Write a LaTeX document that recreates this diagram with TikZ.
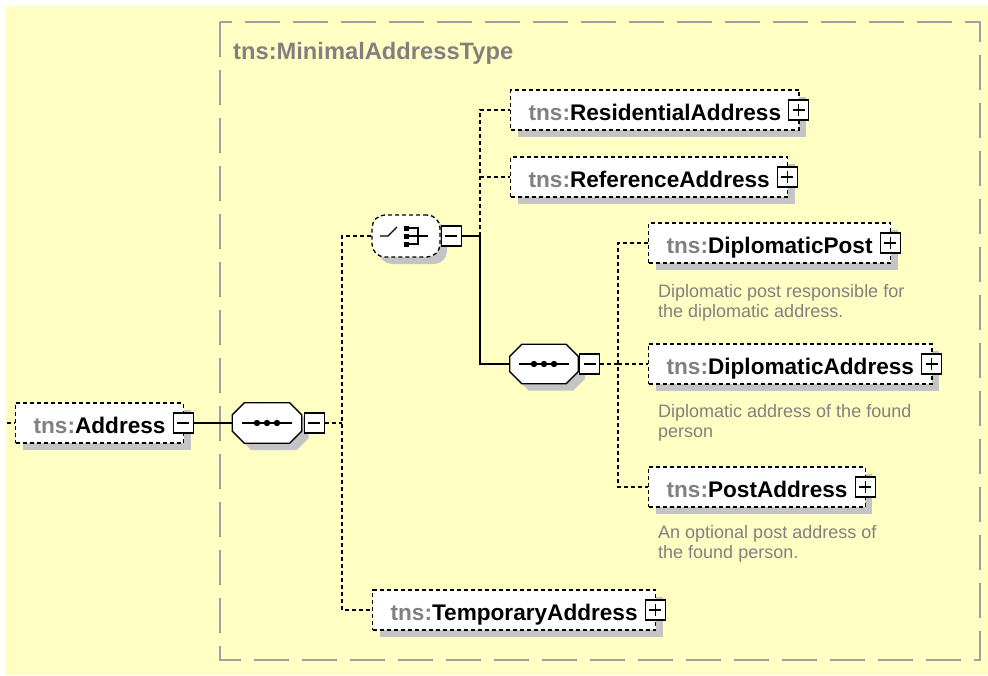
\documentclass[tikz,border=0pt]{standalone}
\usepackage{fontspec}
\setmainfont{Liberation Sans}
\usepackage{xcolor}
\usetikzlibrary{
  positioning,
  shadows
}

\definecolor{paper}{RGB}{255,255,196}
\definecolor{framegray}{RGB}{160,160,160}
\definecolor{shadowgray}{RGB}{196,196,196}
\definecolor{prefixgray}{RGB}{128,128,128}
\definecolor{notegray}{RGB}{128,128,128}

\newcommand{\tnsname}[1]{{\color{prefixgray}tns:}#1\hspace{7pt}}
% octagon round a sequence node, shifted by (#2,#3)
\newcommand{\octpath}[3]{([shift={(12+#2,#3)}]#1.north west) -- ([shift={(-12+#2,#3)}]#1.north east)
  -- ([shift={(#2,12+#3)}]#1.north east) -- ([shift={(#2,-12+#3)}]#1.south east)
  -- ([shift={(-12+#2,#3)}]#1.south east) -- ([shift={(12+#2,#3)}]#1.south west)
  -- ([shift={(#2,-12+#3)}]#1.south west) -- ([shift={(#2,12+#3)}]#1.north west) -- cycle}
\newcommand{\seqshape}[1]{%
  \fill[shadowgray] \octpath{#1}{7}{7};
  \filldraw[fill=white, draw=black, line width=1.3pt] \octpath{#1}{0}{0};
  \draw[line width=1.3pt] ([xshift=-25pt]#1.center) -- ([xshift=25pt]#1.center);
  \foreach \dx in {-10,0,10}
    \fill[black] ([xshift=\dx pt]#1.center) circle (3.2pt);}

\begin{document}
\begin{tikzpicture}[x=1pt, y=-1pt,
    every node/.style={inner sep=0pt},
    boxshadow/.style={drop shadow={shadow xshift=7pt, shadow yshift=-7pt, fill=shadowgray, opacity=1}},
    element/.style={rectangle, draw=black, line width=1.3pt, dash pattern=on 4pt off 3pt, fill=white,
      minimum height=40pt, inner xsep=18pt, text height=22pt, text depth=2pt, anchor=west,
      font=\fontsize{22.6}{27}\selectfont\bfseries, boxshadow},
    pmbox/.style={rectangle, draw=black, solid, line width=1.2pt, fill=white, minimum size=20pt},
    expandbox/.style={pmbox, path picture={
      \draw[line width=1.2pt] ([xshift=-6pt]path picture bounding box.center) -- ([xshift=6pt]path picture bounding box.center);
      \draw[line width=1.2pt] ([yshift=-6pt]path picture bounding box.center) -- ([yshift=6pt]path picture bounding box.center);}},
    collapsebox/.style={pmbox, path picture={
      \draw[line width=1.2pt] ([xshift=-6pt]path picture bounding box.center) -- ([xshift=6pt]path picture bounding box.center);}},
    seqbox/.style={rectangle, minimum width=69pt, minimum height=40pt},
    choicebox/.style={rectangle, rounded corners=13pt, draw=black, line width=1.3pt, dash pattern=on 4pt off 3pt,
      fill=white, minimum width=68pt, minimum height=42pt, boxshadow,
      path picture={
      \begin{scope}[sharp corners, solid, line width=1.3pt]
      \draw (path picture bounding box.center) ++(-26,0) -- ++(8,0) -- ++(9,-9);
      \foreach \dy in {-8,0,8}
        \fill[black] (path picture bounding box.center) ++(-2.5,\dy-2.5) rectangle ++(5,5);
      \draw (path picture bounding box.center) ++(0,-8) -- ++(12,0) -- ++(0,16) -- ++(-12,0);
      \draw (path picture bounding box.center) -- ++(22,0);
      \end{scope}}},
    note/.style={anchor=north west, align=left, text=notegray, font=\fontsize{18}{20}\selectfont},
    dashline/.style={black, line width=1.3pt, dash pattern=on 4pt off 3pt},
    solidline/.style={black, line width=1.5pt}]

% background and type frame
\fill[white] (0,0) rectangle (988,675);
\fill[paper] (5,6) rectangle (988,675);
\useasboundingbox (0,0) rectangle (988,675);
\draw[framegray, line width=1.6pt, dash pattern=on 35pt off 13pt] (220,22) rectangle (980,660);
\node[anchor=base west, text=prefixgray, font=\fontsize{23.7}{28}\selectfont\bfseries] (typename) at (233,59) {tns:MinimalAddressType};

% root element
\node[element] (addr) at (15,423) {\tnsname{Address}};
\node[collapsebox] (addrm) at ([xshift=-1pt]addr.east) {};

% outer sequence and choice
\node[seqbox] (seqa) at (267,423) {};
\seqshape{seqa}
\node[collapsebox, anchor=west] (seqam) at ([xshift=2pt]seqa.east) {};
\node[choicebox] (choice) at (406,236) {};
\node[collapsebox, anchor=west] (choicem) at (choice.east) {};

% choice branches
\node[element] (resid) at (510,110) {\tnsname{ResidentialAddress}};
\node[expandbox] (residp) at ([xshift=-1pt]resid.east) {};
\node[element] (refer) at (510,177) {\tnsname{ReferenceAddress}};
\node[expandbox] (referp) at ([xshift=-1pt]refer.east) {};
\node[seqbox, minimum width=68pt, minimum height=39pt] (seqb) at (544,364) {};
\seqshape{seqb}
\node[collapsebox, anchor=west] (seqbm) at ([xshift=1pt]seqb.east) {};

% diplomatic sequence
\node[element] (dpost) at (648,243) {\tnsname{DiplomaticPost}};
\node[expandbox] (dpostp) at ([xshift=-1pt]dpost.east) {};
\node[note] (dpostn) at ([shift={(10,21)}]dpost.south west) {Diplomatic post responsible for\\the diplomatic address.};
\node[element] (daddr) at (648,364) {\tnsname{DiplomaticAddress}};
\node[expandbox] (daddrp) at ([xshift=-1pt]daddr.east) {};
\node[note] (daddrn) at ([shift={(10,20)}]daddr.south west) {Diplomatic address of the found\\person};
\node[element] (paddr) at (648,487) {\tnsname{PostAddress}};
\node[expandbox] (paddrp) at ([xshift=-1pt]paddr.east) {};
\node[note] (paddrn) at ([shift={(10,18)}]paddr.south west) {An optional post address of\\the found person.};

\node[element] (temp) at (372,610) {\tnsname{TemporaryAddress}};
\node[expandbox] (tempp) at ([xshift=-1pt]temp.east) {};

% connectors
\coordinate (addrin) at (7,423);
\coordinate (busa) at (342,423);
\coordinate (busb) at (480,236);
\coordinate (busc) at (618,364);
\draw[dashline] (addrin) -- (addr.west);
\draw[solidline] (addrm.east) -- (seqa.west);
\draw[dashline] (seqam.east) -- (busa);
\draw[dashline] (choice.west) -| (busa) |- (temp.west);
\draw[solidline] (choicem.east) -- (busb);
\draw[dashline] (busb) |- (resid.west);
\draw[dashline] (busb |- refer.west) -- (refer.west);
\draw[solidline] (busb) |- (seqb.west);
\draw[dashline] (seqbm.east) -- (busc);
\draw[dashline] (dpost.west) -| (busc) |- (paddr.west);
\draw[dashline] (busc) -- (daddr.west);
\end{tikzpicture}
\end{document}
